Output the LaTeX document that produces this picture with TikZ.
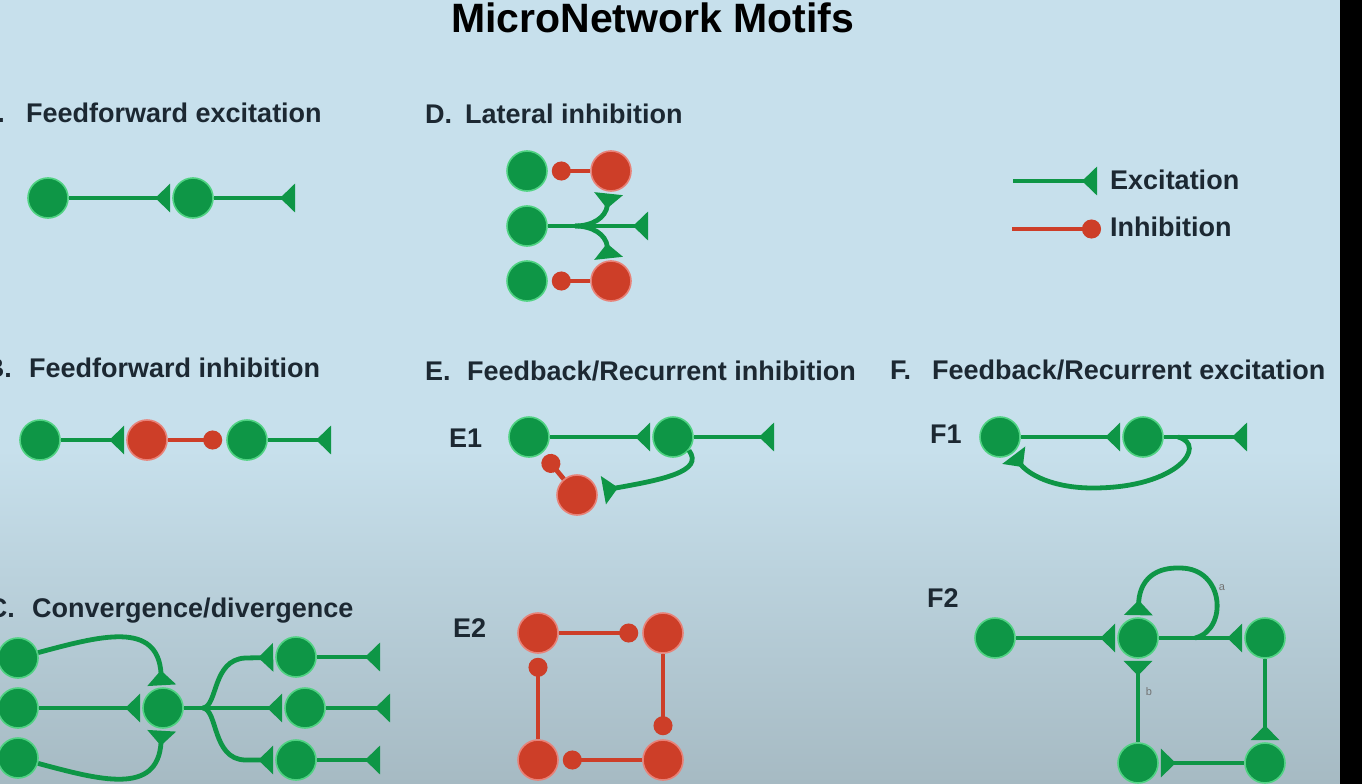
\documentclass[tikz,border=0pt]{standalone}
\usepackage{fontspec}
\setmainfont{Liberation Sans}
\usetikzlibrary{arrows.meta}
\definecolor{exgreen}{RGB}{14,150,70}
\definecolor{exglow}{RGB}{80,210,130}
\definecolor{inred}{RGB}{205,62,40}
\definecolor{inglow}{RGB}{232,130,120}
\definecolor{headtxt}{RGB}{28,40,50}
\definecolor{bgtop}{RGB}{199,224,236}
\definecolor{bgbot}{RGB}{166,186,195}
\begin{document}
\begin{tikzpicture}[
    x=1pt, y=-1pt,
    every node/.style={font=\bfseries\fontsize{27}{30}\selectfont, text=headtxt, inner sep=0pt},
    heading/.style={anchor=base west},
    letterhead/.style={anchor=base east},
    neuron/.style={circle, minimum size=40pt, line width=1.6pt},
    excn/.style={neuron, fill=exgreen, draw=exglow},
    inhn/.style={neuron, fill=inred, draw=inglow},
    excite/.style={draw=exgreen, line width=4.8pt, shorten >=2pt, -{Triangle[reversed, length=15pt, width=28pt]}},
    inhibit/.style={draw=inred, line width=4.8pt, shorten >=4pt, -{Circle[length=19pt]}},
    tag/.style={font=\fontsize{11}{12}\selectfont, text=black!55, anchor=center}
  ]
    \fill[bgtop] (0,0) rectangle (1340,450);
    \shade[top color=bgtop, bottom color=bgbot] (0,449) rectangle (1340,784);
    \fill[black] (1340,0) rectangle (1362,784);
    \useasboundingbox (0,0) rectangle (1362,784);

    \node[anchor=base west, font=\bfseries\fontsize{41}{44}\selectfont, text=black] (title) at (451,33) {MicroNetwork Motifs};

    \node[letterhead] (hAp) at (5,122) {A.};
    \node[heading] (hA) at (26,122) {Feedforward excitation};
    \node[letterhead] (hBp) at (12,377) {B.};
    \node[heading] (hB) at (29,377) {Feedforward inhibition};
    \node[letterhead] (hCp) at (15,617) {C.};
    \node[heading] (hC) at (32,617) {Convergence/divergence};
    \node[heading] (hDp) at (425,123) {D.};
    \node[heading] (hD) at (465,123) {Lateral inhibition};
    \node[heading] (hEp) at (425,380) {E.};
    \node[heading] (hE) at (467,380) {Feedback/Recurrent inhibition};
    \node[heading] (hFp) at (890,379) {F.};
    \node[heading] (hF) at (932,379) {Feedback/Recurrent excitation};
    \node[heading] (lE1) at (449,447) {E1};
    \node[heading] (lF1) at (930,443) {F1};
    \node[heading] (lE2) at (453,637) {E2};
    \node[heading] (lF2) at (927,607) {F2};

    \coordinate (lg1) at (1013,181);
    \coordinate (lg2) at (1099,181);
    \draw[excite] (lg1) -- (lg2);
    \node[heading] (lgE) at (1110,189) {Excitation};
    \coordinate (lg3) at (1012,229);
    \coordinate (lg4) at (1105,229);
    \draw[inhibit] (lg3) -- (lg4);
    \node[heading] (lgI) at (1110,236) {Inhibition};

    \node[excn] (a1) at (48,198) {};
    \node[excn] (a2) at (193,198) {};
    \coordinate (a3) at (297,198);
    \draw[excite] (a1) -- (a2);
    \draw[excite] (a2) -- (a3);

    \node[excn] (b1) at (40,440) {};
    \node[inhn] (b2) at (147,440) {};
    \node[excn] (b3) at (247,440) {};
    \coordinate (b4) at (333,440);
    \draw[excite] (b1) -- (b2);
    \draw[inhibit] (b2) -- (b3);
    \draw[excite] (b3) -- (b4);

    \node[excn] (c1) at (18,658) {};
    \node[excn] (c2) at (18,708) {};
    \node[excn] (c3) at (18,758) {};
    \node[excn] (c4) at (163,708) {};
    \node[excn] (c5) at (296,657) {};
    \node[excn] (c6) at (305,708) {};
    \node[excn] (c7) at (296,760) {};
    \coordinate (c8) at (382,657);
    \coordinate (c9) at (392,708);
    \coordinate (c10) at (382,760);
    \coordinate (c11) at (203,708);
    \draw[excite] (c1) .. controls (100,636) and (158,620) .. (c4);
    \draw[excite] (c3) .. controls (100,780) and (158,796) .. (c4);
    \draw[excite] (c2) -- (c4);
    \draw[excite] (c4) -- (c6);
    \draw[excite] (c11) .. controls (218,706) and (212,660) .. (245,658) -- (c5);
    \draw[excite] (c11) .. controls (218,710) and (212,759) .. (245,760) -- (c7);
    \foreach \s/\t in {c5/c8,c6/c9,c7/c10}
      \draw[excite] (\s) -- (\t);

    \node[excn] (d1) at (527,171) {};
    \node[excn] (d2) at (527,226) {};
    \node[excn] (d3) at (527,281) {};
    \node[inhn] (d4) at (611,171) {};
    \node[inhn] (d5) at (611,281) {};
    \coordinate (d6) at (650,226);
    \coordinate (d7) at (575,226);
    \draw[inhibit] (d4) -- (d1);
    \draw[inhibit] (d5) -- (d3);
    \draw[excite] (d2) -- (d6);
    \draw[excite] (d7) .. controls (592,226) and (606,218) .. (d4);
    \draw[excite] (d7) .. controls (592,226) and (606,234) .. (d5);

    \node[excn] (e1) at (529,437) {};
    \node[excn] (e2) at (673,437) {};
    \node[inhn] (e4) at (577,495) {};
    \coordinate (e3) at (776,437);
    \draw[excite] (e1) -- (e2);
    \draw[excite] (e2) -- (e3);
    \draw[excite, shorten >=6pt] (e2.-40) .. controls (705,472) and (660,480) .. (e4);
    \draw[inhibit] (e4) -- (e1);

    \node[inhn] (q1) at (538,633) {};
    \node[inhn] (q2) at (663,633) {};
    \node[inhn] (q3) at (663,760) {};
    \node[inhn] (q4) at (538,760) {};
    \foreach \s/\t in {q1/q2,q2/q3,q3/q4,q4/q1}
      \draw[inhibit] (\s) -- (\t);

    \node[excn] (f1) at (1000,437) {};
    \node[excn] (f2) at (1143,437) {};
    \coordinate (f3) at (1249,437);
    \coordinate (f4) at (1178,437);
    \coordinate (f5) at (1093,488);
    \draw[excite] (f1) -- (f2);
    \draw[excite] (f2) -- (f3);
    \draw[excite] (f4) .. controls (1208,445) and (1178,488) .. (f5) .. controls (1052,488) and (1028,474) .. (f1);

    \node[excn] (g1) at (995,638) {};
    \node[excn] (g2) at (1138,638) {};
    \node[excn] (g3) at (1265,638) {};
    \node[excn] (g4) at (1138,763) {};
    \node[excn] (g5) at (1265,763) {};
    \coordinate (g6) at (1195,638);
    \coordinate (g7) at (1180,568);
    \draw[excite] (g1) -- (g2);
    \draw[excite] (g2) -- (g3);
    \draw[excite] (g3) -- (g5);
    \draw[excite] (g5) -- (g4);
    \draw[excite] (g4) -- (g2);
    \draw[excite] (g6) .. controls (1228,630) and (1225,568) .. (g7) .. controls (1150,567) and (1139,585) .. (g2);
    \node[tag] (ta) at (1222,588) {a};
    \node[tag] (tb) at (1149,692) {b};
  \end{tikzpicture}
\end{document}
